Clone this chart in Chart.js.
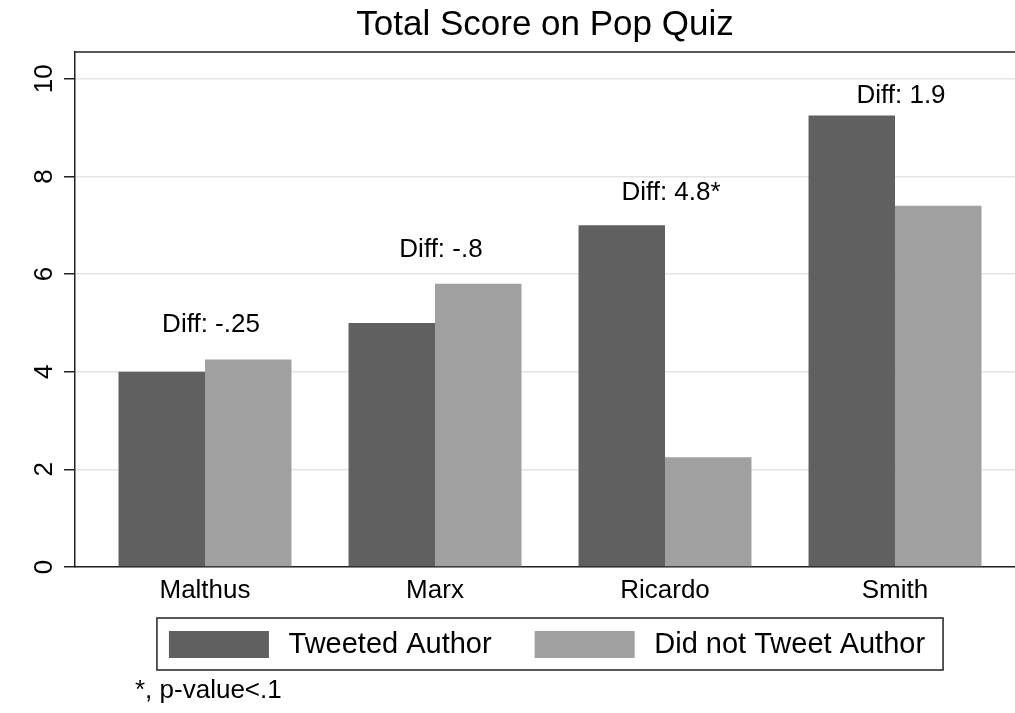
<!DOCTYPE html>
<html>
<head>
<meta charset="utf-8">
<script src="https://cdn.jsdelivr.net/npm/chart.js@4.4.1/dist/chart.umd.min.js"></script>
<style>
html,body{margin:0;padding:0;background:#fff;}
canvas{display:block;}
</style>
</head>
<body>
<canvas id="c" width="1015" height="713"></canvas>
<script>
// ---- data ----
const categories = ['Malthus', 'Marx', 'Ricardo', 'Smith'];
const seriesNames = ['Tweeted Author', 'Did not Tweet Author'];
const tweeted = [4, 5, 7, 9.25];
const notTweeted = [4.25, 5.8, 2.25, 7.4];
const diffLabels = ['Diff: -.25', 'Diff: -.8', 'Diff: 4.8*', 'Diff: 1.9'];
const diffLabelY = [4.96, 6.49, 7.67, 9.66];
const yTickValues = [0, 2, 4, 6, 8, 10];
const titleText = 'Total Score on Pop Quiz';
const noteText = '*, p-value<.1';

const FONT = '"Liberation Sans", Arial, Helvetica, sans-serif';
Chart.defaults.font.family = FONT;
Chart.defaults.color = '#000';

const toPoints = arr => arr.map((v, i) => ({x: i, y: v}));

const deco = {
  id: 'deco',
  afterDatasetsDraw(chart) {
    const {ctx, chartArea: a, scales: {x, y}} = chart;
    ctx.save();
    // top frame line of the plot region
    ctx.strokeStyle = '#222';
    ctx.lineWidth = 1.5;
    ctx.beginPath();
    ctx.moveTo(a.left, a.top);
    ctx.lineTo(a.right, a.top);
    ctx.stroke();
    // difference labels
    ctx.fillStyle = '#000';
    ctx.font = '26px ' + FONT;
    ctx.textAlign = 'center';
    ctx.textBaseline = 'middle';
    diffLabels.forEach((t, i) => {
      ctx.fillText(t, x.getPixelForValue(i) + 6, y.getPixelForValue(diffLabelY[i]));
    });
    ctx.restore();
  },
  afterDraw(chart) {
    const {ctx, chartArea: a} = chart;
    const ds = chart.data.datasets;
    ctx.save();
    // legend (boxed, single row)
    ctx.font = '29px ' + FONT;
    const boxW = 100, boxH = 27, gapText = 19.6, gapItem = 43;
    const widths = ds.map(d => ctx.measureText(d.label).width);
    let total = 0;
    widths.forEach((w, i) => { total += boxW + gapText + w + (i < widths.length - 1 ? gapItem : 0); });
    const cx = (a.left + a.right) / 2 + 2;
    const startX = cx - total / 2;
    const boxTop = a.bottom + 64;
    let xPos = startX;
    ctx.textAlign = 'left';
    ctx.textBaseline = 'middle';
    ds.forEach((d, i) => {
      ctx.fillStyle = d.backgroundColor;
      ctx.fillRect(xPos, boxTop, boxW, boxH);
      ctx.fillStyle = '#000';
      ctx.fillText(d.label, xPos + boxW + gapText, boxTop + boxH / 2 + 0.5);
      xPos += boxW + gapText + widths[i] + gapItem;
    });
    const l = startX - 12, t = boxTop - 13;
    const r = startX + total + 18, b = boxTop + boxH + 12;
    ctx.strokeStyle = '#222';
    ctx.lineWidth = 1.5;
    ctx.strokeRect(l, t, r - l, b - t);
    // note
    ctx.font = '26px ' + FONT;
    ctx.fillStyle = '#000';
    ctx.fillText(noteText, a.left + 60, a.bottom + 124);
    ctx.restore();
  }
};

new Chart(document.getElementById('c'), {
  type: 'bar',
  data: {
    datasets: [
      {label: seriesNames[0], data: toPoints(tweeted), backgroundColor: '#606060', borderWidth: 0},
      {label: seriesNames[1], data: toPoints(notTweeted), backgroundColor: '#a0a0a0', borderWidth: 0}
    ]
  },
  options: {
    responsive: false,
    animation: false,
    devicePixelRatio: 1,
    categoryPercentage: 0.752,
    barPercentage: 1.0,
    layout: {padding: {left: 0, right: 0, top: 0, bottom: 106}},
    scales: {
      x: {
        type: 'linear',
        offset: false,
        min: -0.5652,
        max: 3.5217,
        afterBuildTicks: s => { s.ticks = categories.map((c, i) => ({value: i})); },
        afterFit: s => { s.height = 40; },
        grid: {display: true, drawOnChartArea: false, drawTicks: false},
        border: {display: true, color: '#222', width: 1.5},
        ticks: {
          autoSkip: false,
          padding: 8,
          font: {size: 26},
          color: '#000',
          maxRotation: 0,
          callback: v => categories[Math.round(v)]
        }
      },
      y: {
        type: 'linear',
        min: 0,
        max: 10.55,
        afterBuildTicks: s => { s.ticks = yTickValues.map(v => ({value: v})); },
        afterFit: s => { s.width = 75; },
        grid: {color: '#e4e4e4', lineWidth: 1.5, tickLength: 11, tickColor: '#222', tickWidth: 1.5},
        border: {display: true, color: '#222', width: 1.5},
        ticks: {
          font: {size: 26},
          color: '#000',
          minRotation: 90,
          maxRotation: 90,
          crossAlign: 'center',
          padding: 5,
          callback: v => String(v)
        }
      }
    },
    plugins: {
      title: {
        display: true,
        fullSize: false,
        text: titleText,
        color: '#000',
        font: {size: 35, weight: 'normal', lineHeight: 1},
        padding: {top: 8, bottom: 9}
      },
      legend: {display: false},
      tooltip: {enabled: false}
    }
  },
  plugins: [deco]
});
</script>
</body>
</html>
